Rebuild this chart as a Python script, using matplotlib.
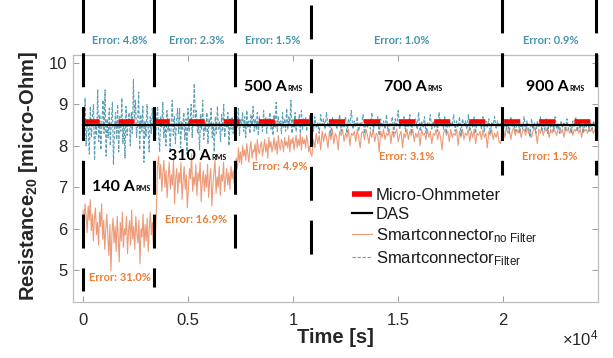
import numpy as np
import matplotlib
matplotlib.use("Agg")
import matplotlib.pyplot as plt
from matplotlib.ticker import FixedLocator, FuncFormatter

plt.rcParams['font.family'] = ['Liberation Sans', 'DejaVu Sans']
plt.rcParams['mathtext.fontset'] = 'custom'
plt.rcParams['mathtext.rm'] = 'Liberation Sans'
plt.rcParams['mathtext.bf'] = 'Liberation Sans:bold'
plt.rcParams['mathtext.it'] = 'Liberation Sans:italic'

# ---------------- data ----------------
# test sections (current levels) and their boundaries [s]
currents = ["140", "310", "500", "700", "900"]
section_bounds = [0, 3380, 7240, 10860, 19950, 24430]
t_end = 24450

err_filter = ["4.8%", "2.3%", "1.5%", "1.0%", "0.9%"]
err_nofilter = ["31.0%", "16.9%", "4.9%", "3.1%", "1.5%"]

micro_ohmmeter = 8.6   # reference value [micro-Ohm]
das = 8.5              # DAS value [micro-Ohm]

# Smartconnector without filter, one list per section
nofilter_starts = [0, 3550, 7300, 10900, 19950]
nofilter_s1 = [6.45, 6.1, 6.6, 6.3, 5.9, 6.55, 6.2, 6.7, 5.95, 6.35,
               5.7, 6.25, 6.5, 5.85, 6.15, 5.6, 6.4, 6.05, 6.6, 5.75,
               6.2, 5.5, 6.0, 6.35, 5.8, 5.35, 6.1, 4.98, 5.9, 6.25,
               5.65, 6.05, 5.45, 6.3, 5.8, 5.2, 6.15, 5.7, 6.4, 5.55,
               6.0, 5.85, 6.3, 5.4, 5.95, 6.2, 5.6, 6.45, 5.75, 6.05,
               5.5, 6.3, 5.9, 5.65, 6.2, 5.15, 6.0, 5.8, 6.35, 5.55,
               6.1, 5.7, 6.25, 5.45, 6.0, 6.4, 5.85, 6.15, 5.6, 6.3,
               5.95, 6.55]
nofilter_s2 = [7.5, 7.75, 7.2, 7.55, 6.9, 7.35, 7.65, 7.0, 7.4, 6.75,
               7.25, 7.6, 6.95, 7.3, 7.05, 7.7, 6.6, 7.2, 7.45, 6.85,
               7.35, 7.1, 7.6, 6.7, 7.15, 7.5, 6.95, 7.3, 6.5, 7.0,
               7.45, 7.2, 7.8, 6.9, 7.25, 7.05, 7.55, 6.8, 7.35, 7.15,
               7.6, 6.65, 7.1, 7.4, 6.9, 7.3, 7.0, 7.55, 6.75, 7.2,
               7.45, 6.55, 7.05, 7.35, 7.65, 6.85, 7.25, 7.0, 7.5, 6.8,
               7.3, 7.15, 7.6, 6.9, 7.2, 7.45, 7.05, 7.35, 6.95, 7.5,
               7.2, 7.4, 7.1, 7.3]
nofilter_s3 = [7.7, 7.45, 7.95, 7.6, 7.85, 7.55, 8.0, 7.75, 7.9, 7.65,
               8.05, 7.8, 7.6, 7.95, 8.1, 7.7, 7.9, 7.85, 8.05, 7.65,
               8.15, 7.9, 7.8, 8.0, 8.1, 7.75, 7.95, 8.15, 7.85, 8.05,
               7.7, 8.2, 7.95, 8.1, 7.85, 8.0, 8.2, 7.9, 8.1, 7.8,
               8.25, 8.0, 7.9, 8.15, 8.05, 7.85, 8.2, 8.0, 8.1, 7.95,
               8.25, 7.85, 8.15, 8.05, 8.2, 7.9, 8.1, 8.25, 7.95, 8.15,
               8.0, 8.3, 7.9, 8.2, 8.05, 8.15, 7.95, 8.25, 8.1, 7.85,
               8.0, 7.8]
nofilter_s4 = [7.75, 8.15, 7.95, 8.3, 8.05, 8.25, 7.9, 8.35, 8.1, 8.3,
               8.2, 7.95, 8.35, 8.15, 8.4, 8.05, 8.3, 8.2, 7.9, 8.35,
               8.25, 8.4, 8.1, 8.3, 8.2, 8.4, 8.0, 8.3, 8.25, 8.35,
               8.1, 8.4, 8.2, 7.95, 8.3, 8.35, 8.15, 8.4, 8.25, 8.05,
               8.35, 8.2, 8.4, 8.1, 8.3, 8.25, 7.85, 8.35, 8.2, 8.4,
               8.15, 8.3, 8.25, 8.4, 8.05, 8.35, 8.2, 8.3, 8.4, 8.1,
               8.25, 8.35, 7.95, 8.3, 8.2, 8.4, 8.15, 8.35, 8.25, 8.4,
               8.1, 8.3, 8.2, 8.35, 8.0, 8.4, 8.25, 8.3, 8.15, 8.4,
               8.2, 8.35, 8.05, 8.3, 8.25, 8.4, 8.15, 8.35, 8.2, 7.9,
               8.3, 8.4, 8.25, 8.35, 8.1, 8.4, 8.2, 8.3, 8.25, 8.4,
               8.0, 8.35, 8.2, 8.4, 8.15, 8.3, 8.25, 8.4, 8.1, 8.35,
               8.2, 8.4, 8.05, 8.3, 8.25, 8.35, 8.15, 8.4, 8.2, 8.3,
               7.95, 8.35, 8.25, 8.4, 8.15, 8.3, 8.2, 8.35, 8.1, 8.05]
nofilter_s5 = [8.25, 8.4, 8.2, 8.45, 8.3, 8.4, 8.15, 8.35, 8.45, 8.25,
               8.4, 8.3, 8.45, 8.2, 8.35, 8.4, 8.25, 8.45, 8.3, 8.4,
               8.2, 8.35, 8.45, 8.3, 8.05, 8.4, 8.3, 8.45, 8.25, 8.4,
               8.35, 8.45, 8.2, 8.4, 8.3, 8.45, 8.35, 8.25, 8.4, 8.45,
               8.3, 8.4, 8.2, 8.45, 8.35, 8.4, 8.3, 8.45, 8.25, 8.4,
               8.35, 8.45, 8.3, 8.4, 8.2, 8.45, 8.35, 8.4, 8.3, 8.45,
               8.35, 8.4, 8.3, 8.4]

# Smartconnector with filter, one list per section
filter_starts = [0, 3400, 7200, 10900, 19950]
filter_s1 = [8.9, 8.3, 9.15, 8.0, 8.6, 8.45, 7.8, 8.95, 8.2, 8.7,
             9.0, 7.65, 8.5, 8.25, 9.35, 8.1, 8.75, 7.9, 8.55, 9.1,
             8.3, 9.35, 7.75, 8.65, 8.2, 8.9, 8.0, 8.6, 9.05, 7.55,
             8.4, 8.8, 8.15, 9.0, 7.85, 8.7, 8.35, 9.15, 8.05, 8.6,
             7.7, 8.95, 8.25, 8.55, 8.8, 8.0, 8.8, 8.3, 9.6, 8.65,
             9.1, 8.2, 8.5, 9.3, 7.9, 8.75, 8.35, 8.95, 7.6, 8.6,
             8.2, 9.0, 8.45, 7.85, 8.7, 8.3, 8.9, 8.4]
filter_s2 = [8.8, 8.1, 8.6, 8.95, 8.3, 7.85, 8.7, 8.45, 9.05, 8.2,
             8.6, 8.0, 8.85, 8.35, 8.65, 7.9, 8.5, 9.1, 8.25, 8.7,
             8.05, 8.55, 8.9, 8.3, 8.9, 7.95, 8.6, 8.4, 8.8, 8.15,
             8.65, 7.8, 8.9, 8.35, 8.55, 9.0, 8.2, 8.7, 9.5, 8.6,
             8.85, 8.3, 8.5, 7.9, 8.75, 8.4, 9.1, 8.15, 8.6, 8.35,
             8.8, 8.05, 8.65, 8.45, 8.9, 8.2, 8.55, 7.85, 8.7, 8.3,
             8.95, 8.4, 8.6, 8.1, 8.75, 8.35, 9.0, 8.2, 8.6, 8.45,
             8.8, 8.0, 8.65, 8.4, 8.7, 8.3]
filter_s3 = [8.6, 8.3, 8.75, 8.45, 8.9, 8.25, 8.65, 8.5, 8.8, 8.35,
             8.7, 8.2, 8.85, 8.45, 8.6, 8.3, 8.75, 8.5, 8.95, 8.35,
             8.65, 8.4, 8.8, 8.25, 8.7, 8.5, 8.6, 8.35, 8.85, 8.45,
             8.7, 8.3, 8.65, 8.5, 8.8, 8.4, 8.6, 8.25, 8.75, 8.45,
             9.05, 8.35, 8.7, 8.5, 8.6, 8.3, 8.8, 8.45, 8.65, 8.35,
             8.9, 8.4, 8.7, 8.5, 9.1, 8.3, 8.65, 8.45, 8.8, 8.35,
             8.6, 8.5, 8.75, 8.3, 8.85, 8.4, 8.65, 8.45, 8.7, 8.35,
             8.6, 8.5, 8.75, 8.4]
filter_s4 = [8.6, 8.35, 8.7, 8.45, 8.55, 8.3, 8.75, 8.5, 8.65, 8.4,
             8.8, 8.45, 8.6, 8.25, 8.7, 8.5, 8.65, 8.4, 8.55, 8.75,
             8.35, 8.6, 8.45, 8.7, 8.3, 8.65, 8.5, 8.85, 8.4, 8.6,
             8.45, 8.7, 8.35, 8.55, 8.5, 8.75, 8.3, 8.65, 8.45, 8.6,
             8.4, 8.8, 8.35, 8.6, 8.5, 8.7, 8.25, 8.65, 8.45, 8.6,
             8.4, 8.75, 8.35, 8.55, 8.5, 8.7, 8.3, 8.65, 8.45, 8.85,
             8.4, 8.6, 8.5, 8.7, 8.35, 8.55, 8.45, 8.75, 8.3, 8.6,
             8.5, 8.65, 8.4, 8.8, 8.35, 8.6, 8.45, 8.7, 8.3, 8.55,
             8.5, 8.75, 8.4, 8.6, 8.45, 8.65, 8.35, 8.8, 8.5, 8.6,
             8.4, 8.7, 8.3, 8.65, 8.45, 8.55, 8.5, 8.75, 8.35, 8.6,
             8.45, 8.7, 8.25, 8.65, 8.5, 8.6, 8.4, 8.75, 8.35, 8.55,
             8.45, 8.7, 8.3, 8.65, 8.5, 8.6, 8.4, 8.7, 8.35, 8.6,
             8.45, 8.65, 8.3, 8.55, 8.5, 8.7, 8.4, 8.6, 8.45, 8.55]
filter_s5 = [8.5, 8.35, 8.65, 8.4, 8.55, 8.3, 8.7, 8.45, 8.6, 8.35,
             8.5, 8.65, 8.3, 8.55, 8.4, 8.7, 8.35, 8.6, 8.45, 8.2,
             8.65, 8.4, 8.55, 8.3, 8.6, 8.45, 8.7, 8.35, 8.5, 8.4,
             8.65, 8.3, 8.55, 8.45, 8.6, 8.35, 8.7, 8.4, 8.5, 8.3,
             8.6, 8.45, 8.55, 8.35, 8.65, 8.4, 8.5, 8.3, 8.6, 8.45,
             8.7, 8.35, 8.55, 8.4, 8.6, 8.3, 8.5, 8.45, 8.65, 8.35,
             8.55, 8.4, 8.6, 8.45]

x_ticks = [0, 5000, 10000, 15000, 20000]
y_ticks = [5, 6, 7, 8, 9, 10]


def build(starts, segments, end):
    bounds = list(starts) + [end]
    t, v = [], []
    for k, seg in enumerate(segments):
        t.append(np.linspace(bounds[k], bounds[k + 1], len(seg), endpoint=False))
        v.append(np.asarray(seg, dtype=float))
    return np.concatenate(t), np.concatenate(v)


t_nf, r_nf = build(nofilter_starts,
                   [nofilter_s1, nofilter_s2, nofilter_s3, nofilter_s4, nofilter_s5], t_end)
t_f, r_f = build(filter_starts,
                 [filter_s1, filter_s2, filter_s3, filter_s4, filter_s5], t_end)

# ---------------- figure ----------------
W, H = 613, 358
fig = plt.figure(figsize=(W / 100, H / 100), dpi=100)
ax = fig.add_axes([73 / W, 1 - 302 / H, 525 / W, 247 / H])

c_orange = '#EC9A78'
c_blue = '#5C9FB6'
c_txt_blue = '#4795AC'
c_txt_orange = '#ED7D31'

l_nf, = ax.plot(t_nf, r_nf, color=c_orange, lw=0.8, zorder=2,
                label=r'Smartconnector$_{\mathregular{no\ Filter}}$')
l_f, = ax.plot(t_f, r_f, color=c_blue, lw=0.8, dashes=(3, 1.5), zorder=3,
               label=r'Smartconnector$_{\mathregular{Filter}}$')
l_mo, = ax.plot([0, t_end], [micro_ohmmeter, micro_ohmmeter], color='#FF0000',
                lw=3.3, dashes=(3.5, 4.15), zorder=4, solid_capstyle='butt',
                label='Micro-Ohmmeter')
l_das, = ax.plot([0, t_end], [das, das], color='black', lw=1.6, zorder=5,
                 label='DAS')

ax.set_xlim(-476, 24524)
ax.set_ylim(4.23, 10.19)

# section separators reaching above the axes
sep_top = [11.79, 11.93, 11.55, 11.40, 12.03, 12.05]
sep_bottom = [4.49, 4.59, 5.46, 5.34, 7.29, 7.29]
for xb, yt, yb in zip(section_bounds, sep_top, sep_bottom):
    ax.plot([xb, xb], [yt, yb], color='black', lw=2.2, dashes=(11.1, 6.5),
            zorder=6, clip_on=False, solid_capstyle='butt')

# ticks and frame
ax.xaxis.set_major_locator(FixedLocator(x_ticks))
ax.yaxis.set_major_locator(FixedLocator(y_ticks))
ax.xaxis.set_major_formatter(FuncFormatter(lambda v, p: f"{v / 1e4:g}"))
ax.yaxis.set_major_formatter(FuncFormatter(lambda v, p: f"{v:g}"))
ax.tick_params(axis='both', direction='in', length=4, width=0.7, color='#9a9a9a',
               labelsize=12, labelcolor='#262626', top=True, right=True)
ax.tick_params(axis='x', pad=8)
ax.tick_params(axis='y', pad=4)
for s in ax.spines.values():
    s.set_color('#bdbdbd')
    s.set_linewidth(0.9)

fig.text(598 / W, 1 - 345 / H, r'$\times\mathregular{10^{4}}$', ha='right',
         va='baseline', fontsize=12, color='#262626')
ax.set_xlabel('Time [s]', fontsize=14.5, fontweight='bold', color='#262626')
ax.xaxis.set_label_coords(0.5, -0.105)
fig.text(29 / W, 1 - 176 / H, r'Resistance$_{\mathbf{20}}$ [micro-Ohm]',
         rotation=90, ha='center', va='center', fontsize=14.5,
         fontweight='bold', color='#262626')

# current level labels
lab_x = [430, 4048, 7667, 14333, 21095]
lab_y = [6.91, 7.66, 9.32, 9.32, 9.32]
for cur, x, y in zip(currents, lab_x, lab_y):
    t1 = ax.text(x, y, f"{cur} A", fontsize=11.5, fontweight='bold',
                 family='Lato', va='baseline', ha='left', zorder=7)
    ax.annotate('RMS', xy=(1, 0), xycoords=t1, xytext=(0.5, 1.5),
                textcoords='offset points', fontsize=5, fontweight='bold',
                family='Lato', va='bottom', ha='left', zorder=7)

# error labels
ferr_x = [1762, 5429, 9048, 15190, 22286]
for e, x in zip(err_filter, ferr_x):
    ax.text(x, 10.53, f"Error: {e}", color=c_txt_blue, fontsize=8,
            fontweight='bold', family='Lato', ha='center', va='center',
            clip_on=False)
nerr_x = [1762, 5381, 9381, 15429, 22238]
nerr_y = [4.81, 6.23, 7.51, 7.73, 7.73]
for e, x, y in zip(err_nofilter, nerr_x, nerr_y):
    ax.text(x, y, f"Error: {e}", color=c_txt_orange, fontsize=8,
            fontweight='bold', family='Lato', ha='center', va='center')

leg = ax.legend(handles=[l_mo, l_das, l_nf, l_f], loc='upper left',
                bbox_to_anchor=(0.531, 0.462), frameon=False, fontsize=12,
                handlelength=1.2, handletextpad=0.25, labelspacing=0.25,
                borderpad=0, borderaxespad=0)
leg.legend_handles[0].set_linestyle('-')
leg.legend_handles[0].set_linewidth(4)
for t in leg.get_texts():
    t.set_color('#1a1a1a')

fig.savefig('out.png', dpi=100)
